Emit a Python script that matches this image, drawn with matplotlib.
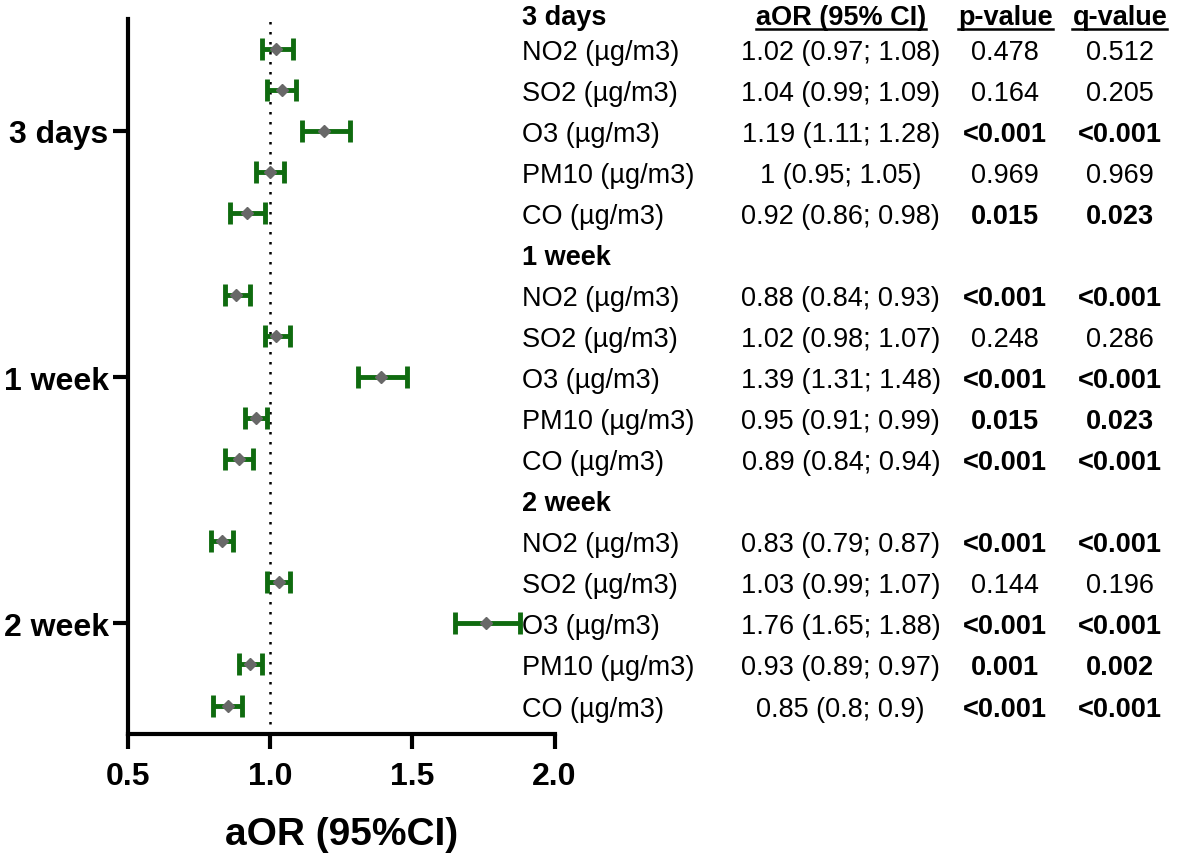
import matplotlib
matplotlib.use("Agg")
import matplotlib.pyplot as plt
import matplotlib.transforms as mtransforms
from matplotlib.lines import Line2D

plt.rcParams['font.family'] = ['Liberation Sans', 'DejaVu Sans']

# Datos
periods = ['3 days', '1 week', '2 week']
pollutants = ['NO2 (µg/m3)', 'SO2 (µg/m3)', 'O3 (µg/m3)', 'PM10 (µg/m3)', 'CO (µg/m3)']
aor = [1.02, 1.04, 1.19, 1, 0.92,
       0.88, 1.02, 1.39, 0.95, 0.89,
       0.83, 1.03, 1.76, 0.93, 0.85]
lo = [0.97, 0.99, 1.11, 0.95, 0.86,
      0.84, 0.98, 1.31, 0.91, 0.84,
      0.79, 0.99, 1.65, 0.89, 0.8]
hi = [1.08, 1.09, 1.28, 1.05, 0.98,
      0.93, 1.07, 1.48, 0.99, 0.94,
      0.87, 1.07, 1.88, 0.97, 0.9]
pval = ['0.478', '0.164', '<0.001', '0.969', '0.015',
        '<0.001', '0.248', '<0.001', '0.015', '<0.001',
        '<0.001', '0.144', '<0.001', '0.001', '<0.001']
qval = ['0.512', '0.205', '<0.001', '0.969', '0.023',
        '<0.001', '0.286', '<0.001', '0.023', '<0.001',
        '<0.001', '0.196', '<0.001', '0.002', '<0.001']

# posiciones de filas (cabecera de cada periodo + 5 contaminantes)
ypos = []
for g in range(3):
    for k in range(5):
        ypos.append(g * 6 + k + 1)
tick_pos = [g * 6 + 3 for g in range(3)]

fig = plt.figure(figsize=(11.8, 8.54), dpi=100)
ax = fig.add_axes([0.1085, 0.139, 0.3615, 0.838])

xerr = [[a - l for a, l in zip(aor, lo)], [h - a for a, h in zip(aor, hi)]]
ax.errorbar(aor, ypos, xerr=xerr, fmt='none', ecolor='#0f6b0f', elinewidth=3.5,
            capsize=8, capthick=3.5, zorder=2)
ax.plot(aor, ypos, 'D', color='#686868', markersize=6.5, zorder=3)
ax.axvline(1.0, color='black', linestyle=(0, (1, 3)), linewidth=1.8, zorder=1)

ax.set_xlim(0.5, 2.0)
ax.set_ylim(17.7, 0.27)
ax.set_xticks([0.5, 1.0, 1.5, 2.0])
ax.set_xticklabels(['0.5', '1.0', '1.5', '2.0'], fontsize=23, fontweight='bold')
ax.set_yticks(tick_pos)
ax.set_yticklabels(periods, fontsize=23, fontweight='bold')
ax.tick_params(width=3, length=11, pad=3)
ax.tick_params(axis='x', pad=8)
for s in ['top', 'right']:
    ax.spines[s].set_visible(False)
for s in ['left', 'bottom']:
    ax.spines[s].set_linewidth(3)
ax.set_xlabel('aOR (95%CI)', fontsize=28, fontweight='bold', labelpad=18)

# Tabla a la derecha
tr = mtransforms.blended_transform_factory(fig.transFigure, ax.transData)
x_lab, x_aor, x_p, x_q = 0.4425, 0.7125, 0.852, 0.949
fs = 19.5

headers = []
for g, name in enumerate(periods):
    y = g * 6 if g > 0 else 0.15
    ax.text(x_lab, y, name, transform=tr, fontsize=fs, fontweight='bold',
            ha='left', va='center_baseline', clip_on=False)
    if g == 0:
        for xx, t in [(x_aor, 'aOR (95% CI)'), (x_p, 'p-value'), (x_q, 'q-value')]:
            headers.append(ax.text(xx, y, t, transform=tr, fontsize=fs, fontweight='bold',
                                   ha='center', va='center_baseline', clip_on=False))

for i, y in enumerate(ypos):
    ax.text(x_lab, y, pollutants[i % 5], transform=tr, fontsize=fs,
            ha='left', va='center_baseline', clip_on=False)
    ax.text(x_aor, y, f"{aor[i]:g} ({lo[i]:g}; {hi[i]:g})", transform=tr, fontsize=fs,
            ha='center', va='center_baseline', clip_on=False)
    for xx, v in [(x_p, pval[i]), (x_q, qval[i])]:
        bold = v.startswith('<') or float(v) < 0.05
        ax.text(xx, y, v, transform=tr, fontsize=fs, fontweight='bold' if bold else 'normal',
                ha='center', va='center_baseline', clip_on=False)

# subrayado de cabeceras
fig.canvas.draw()
inv = fig.transFigure.inverted()
for t in headers:
    bb = t.get_window_extent()
    (x0, y0), (x1, _) = inv.transform([(bb.x0, bb.y0 + 1), (bb.x1, bb.y0)])
    fig.add_artist(Line2D([x0, x1], [y0, y0], color='black', linewidth=1.8,
                          transform=fig.transFigure))

fig.savefig('out.png', dpi=100)
